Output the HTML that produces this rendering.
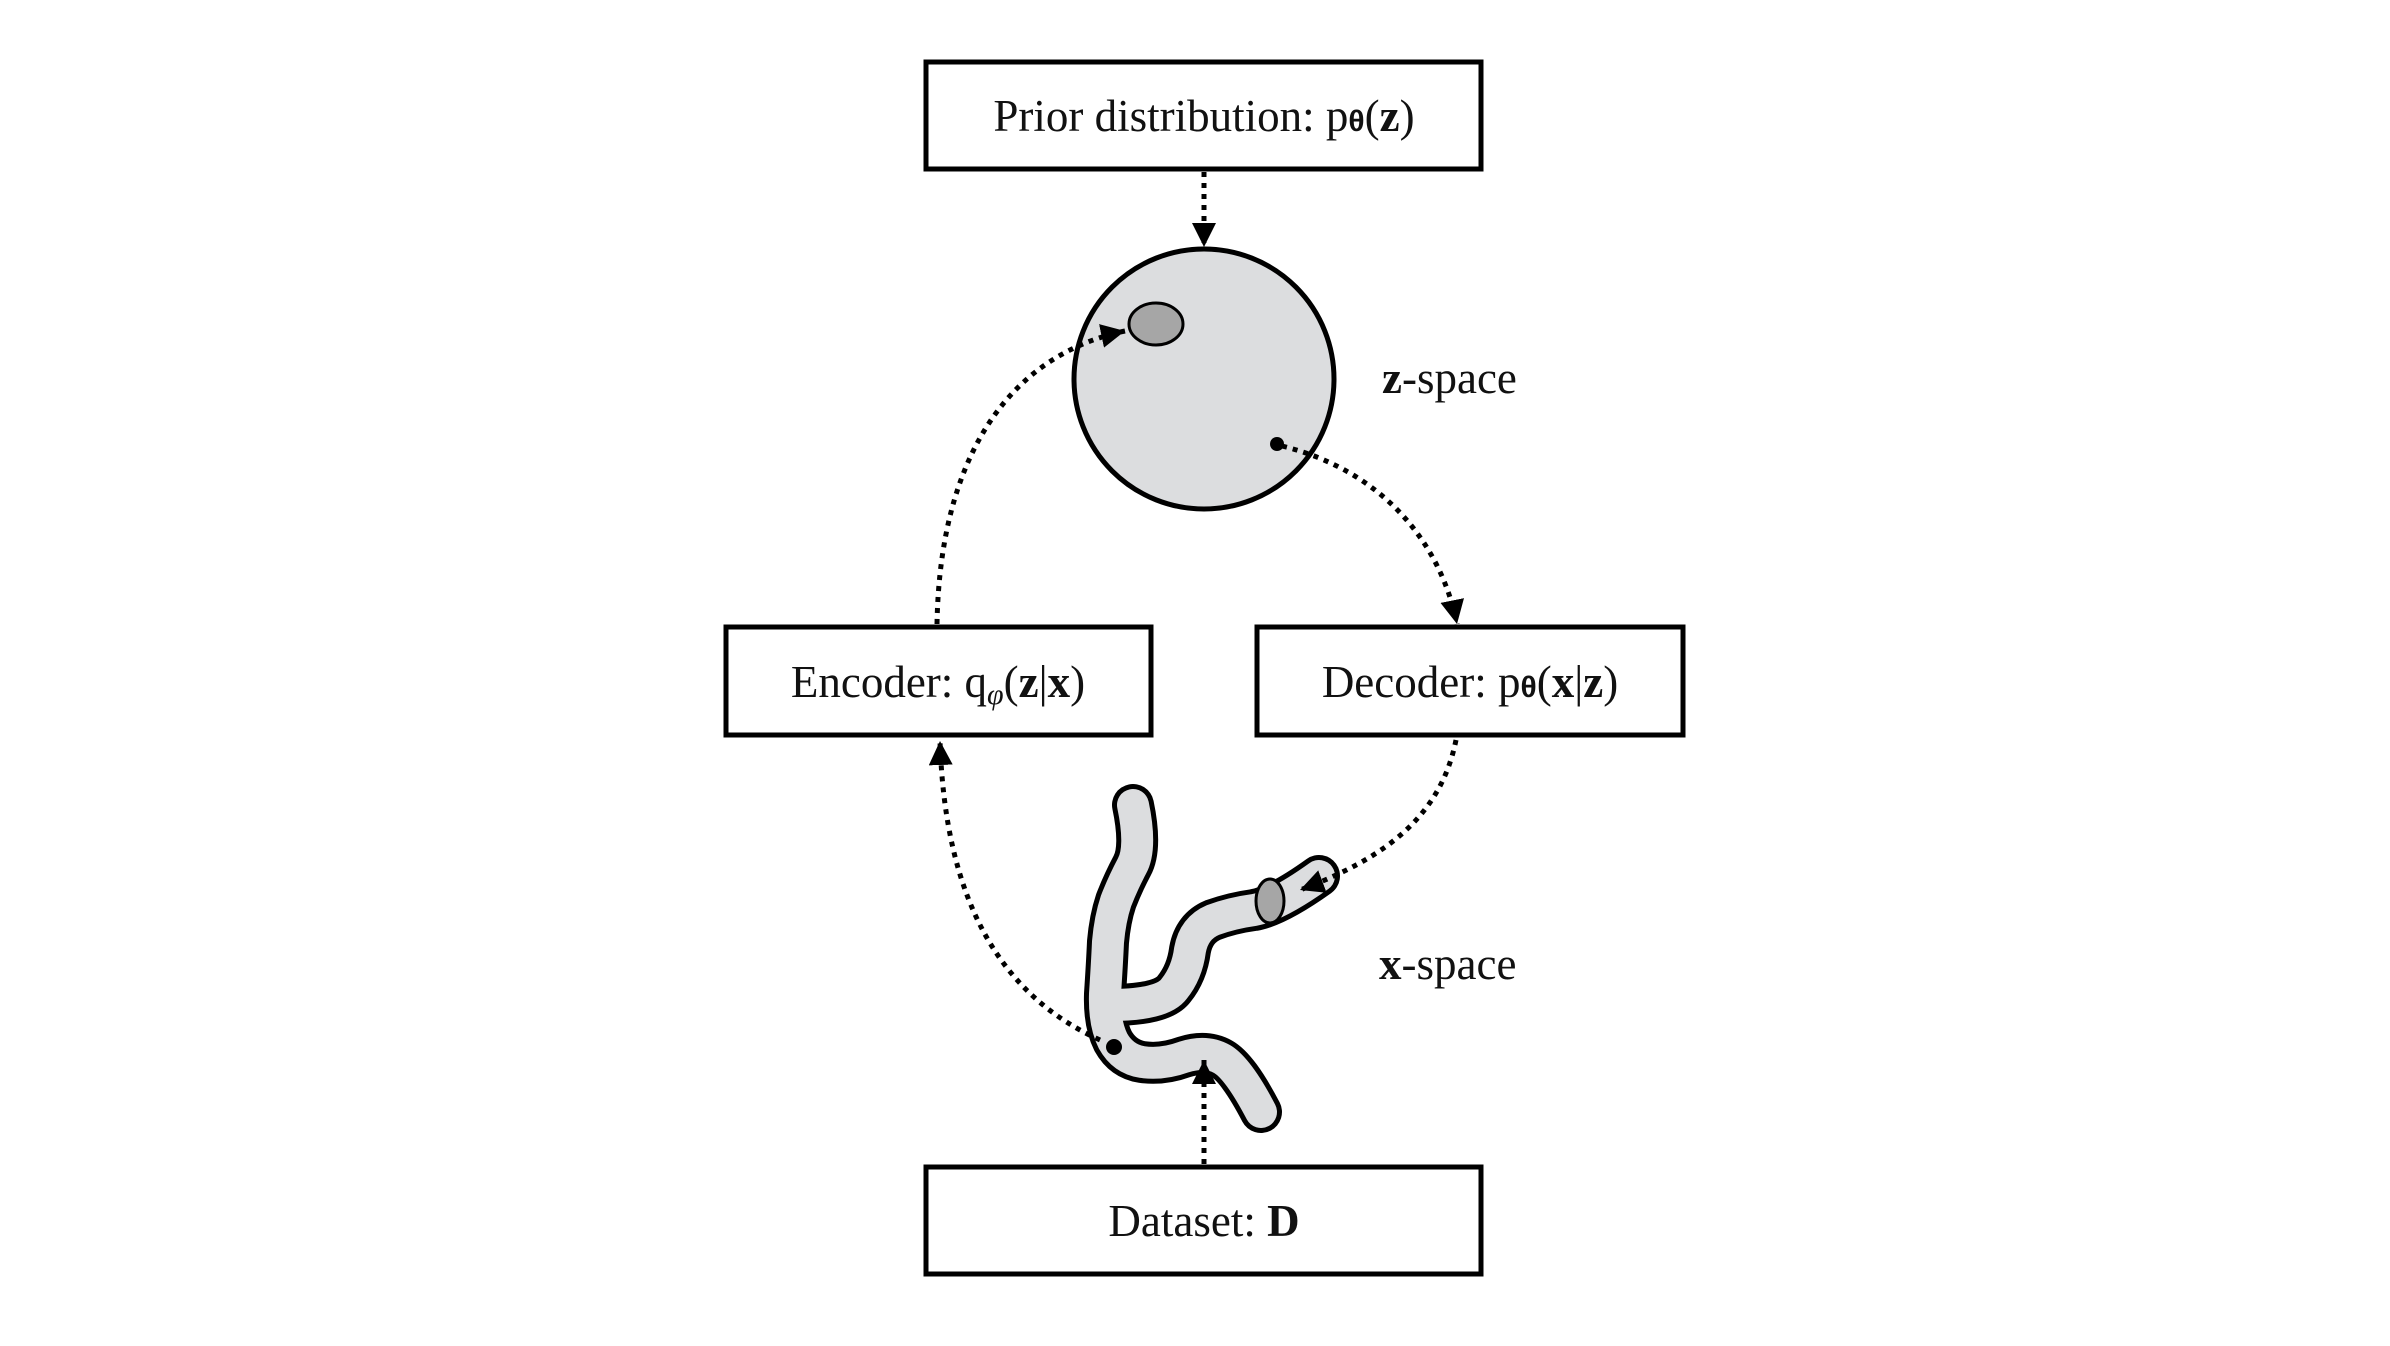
<!DOCTYPE html>
<html><head><meta charset="utf-8"><style>
html,body{margin:0;padding:0;background:#fff;}
svg{display:block}
text{font-family:"Liberation Serif",serif;font-size:45px;fill:#111}
</style></head><body>
<svg width="2390" height="1346" viewBox="0 0 2390 1346" xmlns="http://www.w3.org/2000/svg">
<defs>
<marker id="a2" viewBox="0 0 24 24" refX="24" refY="12" markerWidth="24" markerHeight="24" orient="auto" markerUnits="userSpaceOnUse">
<path d="M0,0 L24,12 L0,24 Z" fill="#000"/>
</marker>
</defs>
<g fill="#fff" stroke="#000" stroke-width="5">
<rect x="926" y="62" width="555" height="107"/>
<rect x="726" y="627" width="425" height="108"/>
<rect x="1257" y="627" width="426" height="108"/>
<rect x="926" y="1167" width="555" height="107"/>
</g>
<text x="1204" y="131" text-anchor="middle">Prior distribution: p<tspan font-weight="bold" font-family="Liberation Sans" font-size="30">θ</tspan>(<tspan font-weight="bold">z</tspan>)</text>
<text x="938" y="697" text-anchor="middle">Encoder: q<tspan font-style="italic" font-size="30" dy="7">φ</tspan><tspan dy="-7">(</tspan><tspan font-weight="bold">z</tspan>|<tspan font-weight="bold">x</tspan>)</text>
<text x="1470" y="697" text-anchor="middle">Decoder: p<tspan font-weight="bold" font-family="Liberation Sans" font-size="30">θ</tspan>(<tspan font-weight="bold">x</tspan>|<tspan font-weight="bold">z</tspan>)</text>
<text x="1204" y="1236" text-anchor="middle">Dataset: <tspan font-weight="bold">D</tspan></text>
<text x="1382" y="393"><tspan font-weight="bold">z</tspan>-space</text>
<text x="1379" y="979"><tspan font-weight="bold">x</tspan>-space</text>

<circle cx="1204" cy="379" r="130" fill="#dcdddf" stroke="#000" stroke-width="5"/>
<ellipse cx="1156" cy="324" rx="27" ry="21" fill="#a6a6a6" stroke="#000" stroke-width="3"/>
<circle cx="1277" cy="444" r="7" fill="#000"/>

<g fill="none" stroke-linecap="round" stroke-linejoin="round">
<path d="M1133,805 Q1142,848 1132,866 Q1123,883 1116,901 Q1110,919 1108,942 Q1107,964 1105,994 Q1104,1023 1113,1041 Q1123,1059 1142,1062 Q1162,1065 1184,1057 Q1206,1050 1222,1059 Q1238,1068 1261,1112" stroke="#000" stroke-width="42"/>
<path d="M1110,1005 Q1162,1005 1174,989 Q1187,973 1190,950 Q1194,928 1213,920 Q1232,913 1254,910 Q1277,906 1319,876" stroke="#000" stroke-width="42"/>
<path d="M1133,805 Q1142,848 1132,866 Q1123,883 1116,901 Q1110,919 1108,942 Q1107,964 1105,994 Q1104,1023 1113,1041 Q1123,1059 1142,1062 Q1162,1065 1184,1057 Q1206,1050 1222,1059 Q1238,1068 1261,1112" stroke="#dcdddf" stroke-width="32"/>
<path d="M1110,1005 Q1162,1005 1174,989 Q1187,973 1190,950 Q1194,928 1213,920 Q1232,913 1254,910 Q1277,906 1319,876" stroke="#dcdddf" stroke-width="32"/>
</g>
<ellipse cx="1270" cy="901" rx="14" ry="22" fill="#a6a6a6" stroke="#000" stroke-width="3"/>
<circle cx="1114" cy="1047" r="8" fill="#000"/>

<g fill="none" stroke="#000" stroke-width="5" stroke-dasharray="5,6">
<path d="M1204,172 L1204,247" marker-end="url(#a2)"/>
<path d="M937,624 C940,455 1010,355 1125,331" marker-end="url(#a2)"/>
<path d="M1282,446 C1380,470 1440,540 1457,624" marker-end="url(#a2)"/>
<path d="M1456,740 C1440,820 1380,860 1300,890" marker-end="url(#a2)"/>
<path d="M1204,1164 L1204,1060" marker-end="url(#a2)"/>
<path d="M1100,1040 C1000,995 945,900 940,741" marker-end="url(#a2)"/>
</g>
</svg>
</body></html>
